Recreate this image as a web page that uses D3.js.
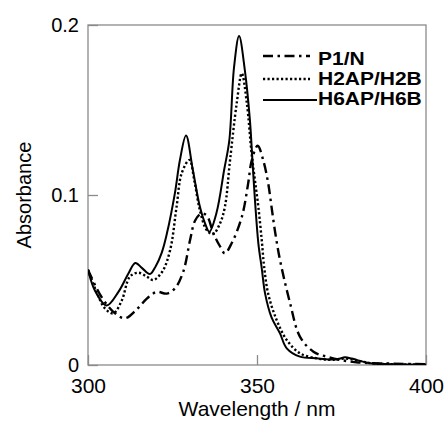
<!DOCTYPE html>
<html>
<head>
<meta charset="utf-8">
<script src="https://cdn.jsdelivr.net/npm/d3@7"></script>
<style>
  html, body { margin: 0; padding: 0; background: #fff; }
  svg { display: block; font-family: "Liberation Sans", Arial, sans-serif; }
</style>
</head>
<body>
<div id="chart"></div>
<script>
const WIDTH = 444;
const HEIGHT = 421;
const MARGIN = { top: 25, right: 18, bottom: 56, left: 88 };

const xTicks = [300, 350, 400];
const yTicks = [0, 0.1, 0.2];
const yTickLabels = ["0", "0.1", "0.2"];

// P1/N (dash-dot)
const p1Wavelength = [300, 304, 308, 311, 314.4, 317.4, 320.3, 323.3, 325.7, 328.2, 330.2, 331.7, 333.5, 335.1, 337.1, 339, 340.5, 342.5, 345.5, 347.4, 348.4, 350.2, 351.9, 353.3, 354.3, 355.3, 356.8, 359.8, 362.7, 366.7, 370.6, 374.6, 380, 390, 400];
const p1Absorbance = [0.056, 0.040, 0.0304, 0.0275, 0.0327, 0.039, 0.043, 0.042, 0.045, 0.055, 0.0735, 0.085, 0.089, 0.088, 0.0775, 0.070, 0.0657, 0.0716, 0.087, 0.107, 0.12, 0.129, 0.12, 0.107, 0.093, 0.079, 0.0618, 0.0363, 0.0167, 0.0078, 0.0049, 0.003, 0.0015, 0.0008, 0.0005];

// H2AP/H2B (dotted)
const h2Wavelength = [300, 302.5, 305, 307.5, 310, 312.4, 314.9, 317.4, 319.3, 322, 324.3, 326.2, 327.7, 330, 331.5, 333.1, 335.1, 337, 339, 340.5, 342, 344, 345.5, 347, 348.4, 349.3, 350.4, 351.4, 352.1, 353.3, 355.8, 358.8, 362.7, 367.7, 372, 376, 380, 384, 390, 400];
const h2Absorbance = [0.056, 0.043, 0.0333, 0.0304, 0.038, 0.052, 0.0543, 0.052, 0.050, 0.055, 0.0676, 0.093, 0.1127, 0.1206, 0.108, 0.091, 0.0794, 0.077, 0.083, 0.093, 0.12, 0.154, 0.1716, 0.154, 0.1245, 0.110, 0.093, 0.0735, 0.058, 0.042, 0.0265, 0.0147, 0.0069, 0.0039, 0.003, 0.0038, 0.0025, 0.001, 0.0005, 0.0003];

// H6AP/H6B (solid)
const h6Wavelength = [300, 302, 305.5, 309, 312, 314, 316, 318.3, 320, 321.8, 323.3, 325.7, 327.2, 329, 331, 333, 334.6, 335.9, 338, 340.3, 341.8, 343.2, 344.7, 346.4, 347.9, 348.6, 349.4, 350.4, 351.4, 352.4, 354.3, 356.8, 358.8, 362.7, 367.7, 371.6, 374, 376, 378, 379.5, 383.4, 390, 400];
const h6Absorbance = [0.056, 0.044, 0.035, 0.043, 0.054, 0.060, 0.057, 0.0535, 0.058, 0.066, 0.077, 0.101, 0.1206, 0.135, 0.115, 0.094, 0.0835, 0.0784, 0.0894, 0.115, 0.132, 0.175, 0.1935, 0.1735, 0.144, 0.122, 0.097, 0.0716, 0.057, 0.042, 0.028, 0.0186, 0.0098, 0.0049, 0.0039, 0.0033, 0.0035, 0.0045, 0.0038, 0.003, 0.001, 0.0005, 0.0003];

const seriesNames = ["P1/N", "H2AP/H2B", "H6AP/H6B"];
const seriesWavelengths = [p1Wavelength, h2Wavelength, h6Wavelength];
const seriesAbsorbances = [p1Absorbance, h2Absorbance, h6Absorbance];

const STYLES = [
  { dash: "10,4.5,2.5,4.5", width: 2.4 },
  { dash: "2.2,2.3", width: 2.4 },
  { dash: null, width: 2 },
];

const series = seriesNames.map((name, i) => ({
  name,
  style: STYLES[i],
  points: seriesWavelengths[i].map((w, j) => ({ w, a: seriesAbsorbances[i][j] })),
}));

const xScale = d3.scaleLinear().domain([300, 400]).range([MARGIN.left, WIDTH - MARGIN.right]);
const yScale = d3.scaleLinear().domain([0, 0.2]).range([HEIGHT - MARGIN.bottom, MARGIN.top]);

const svg = d3.select("#chart")
  .append("svg")
  .attr("width", WIDTH)
  .attr("height", HEIGHT)
  .attr("viewBox", `0 0 ${WIDTH} ${HEIGHT}`);

svg.append("clipPath")
  .attr("id", "plot-clip")
  .append("rect")
  .attr("x", MARGIN.left)
  .attr("y", MARGIN.top - 2)
  .attr("width", WIDTH - MARGIN.left - MARGIN.right)
  .attr("height", HEIGHT - MARGIN.top - MARGIN.bottom + 2);

const AXIS_COLOR = "#8a8a8a";

// frame
svg.append("rect")
  .attr("x", MARGIN.left)
  .attr("y", MARGIN.top)
  .attr("width", WIDTH - MARGIN.left - MARGIN.right)
  .attr("height", HEIGHT - MARGIN.top - MARGIN.bottom)
  .attr("fill", "none")
  .attr("stroke", AXIS_COLOR)
  .attr("stroke-width", 1.3);

const xAxis = d3.axisBottom(xScale).tickValues(xTicks).tickSize(-10).tickPadding(13).tickFormat(d3.format("d"));
const yAxis = d3.axisLeft(yScale).tickValues(yTicks).tickSize(-10).tickPadding(9)
  .tickFormat((d, i) => yTickLabels[i]);

svg.append("g")
  .attr("transform", `translate(0,${HEIGHT - MARGIN.bottom})`)
  .call(xAxis)
  .call((g) => g.select(".domain").remove())
  .call((g) => g.selectAll("line").attr("stroke", AXIS_COLOR).attr("stroke-width", 1.3))
  .call((g) => g.selectAll("text").attr("fill", "#000").attr("font-size", 21).attr("font-family", "Liberation Sans, Arial, sans-serif"));

svg.append("g")
  .attr("transform", `translate(${MARGIN.left},0)`)
  .call(yAxis)
  .call((g) => g.select(".domain").remove())
  .call((g) => g.selectAll("line").attr("stroke", AXIS_COLOR).attr("stroke-width", 1.3))
  .call((g) => g.selectAll("text").attr("fill", "#000").attr("font-size", 20).attr("font-family", "Liberation Sans, Arial, sans-serif"));

svg.append("text")
  .attr("x", (MARGIN.left + WIDTH - MARGIN.right) / 2)
  .attr("y", 416)
  .attr("text-anchor", "middle")
  .attr("font-size", 21)
  .attr("fill", "#000")
  .text("Wavelength / nm");

svg.append("text")
  .attr("transform", `translate(31,195) rotate(-90)`)
  .attr("text-anchor", "middle")
  .attr("font-size", 20)
  .attr("fill", "#000")
  .text("Absorbance");

const line = d3.line()
  .x((d) => xScale(d.w))
  .y((d) => yScale(d.a))
  .curve(d3.curveCatmullRom.alpha(0.5));

svg.append("g")
  .attr("clip-path", "url(#plot-clip)")
  .selectAll("path")
  .data(series)
  .join("path")
  .attr("d", (d) => line(d.points))
  .attr("fill", "none")
  .attr("stroke", "#000")
  .attr("stroke-width", (d) => d.style.width)
  .attr("stroke-dasharray", (d) => d.style.dash);

// legend: text in the reference is a bit stretched sideways
const legendLineY = [56, 79, 100];
const legendTextY = [65, 85, 105];
const legend = svg.append("g");
series.forEach((s, i) => {
  legend.append("line")
    .attr("x1", 263)
    .attr("x2", i === 2 ? 317 : 310)
    .attr("y1", legendLineY[i])
    .attr("y2", legendLineY[i])
    .attr("stroke", "#000")
    .attr("stroke-width", s.style.width)
    .attr("stroke-dasharray", s.style.dash);
  legend.append("text")
    .attr("transform", `translate(318,${legendTextY[i]}) scale(1.2,1)`)
    .attr("font-size", 17.5)
    .attr("font-weight", "bold")
    .attr("fill", "#000")
    .text(s.name);
});
</script>
</body>
</html>
